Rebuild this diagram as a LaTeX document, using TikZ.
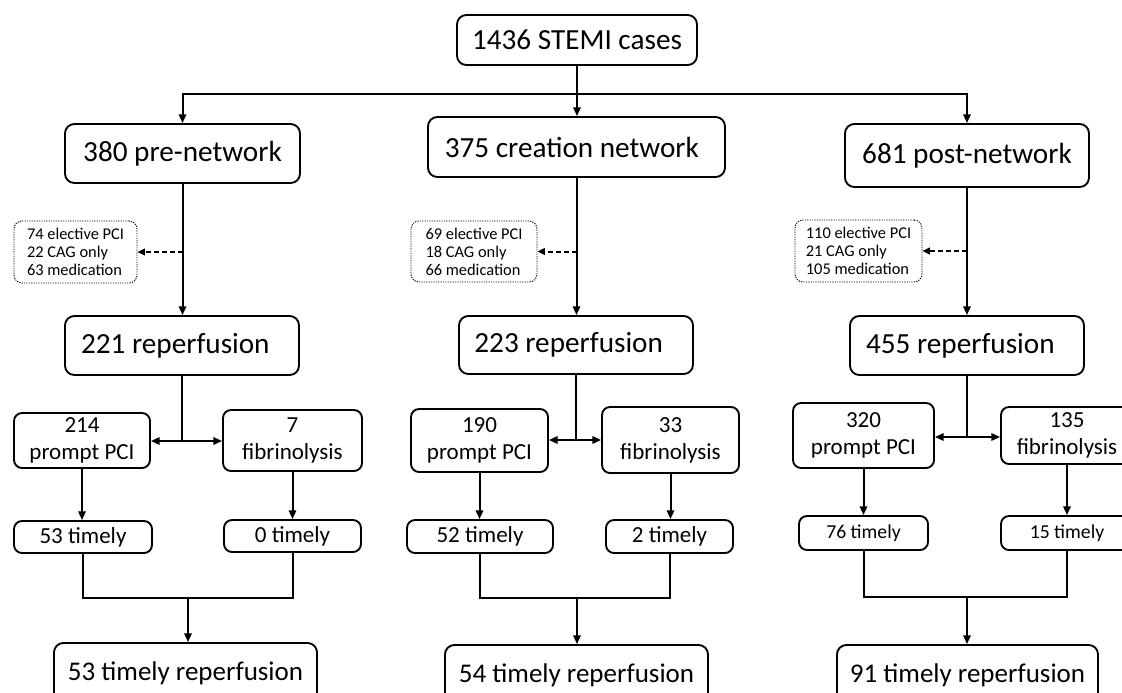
\documentclass[tikz,border=0pt]{standalone}
\usepackage{fontspec}
\setmainfont{Carlito}
\usetikzlibrary{arrows.meta,calc}
\begin{document}
\begin{tikzpicture}[x=0.75pt,y=-0.75pt,
  sz/.style 2 args={minimum width=#1*0.75pt,minimum height=#2*0.75pt},
  box/.style={draw,line width=1.4pt,rounded corners=7pt,inner sep=0pt,align=center},
  big/.style={box,font=\fontsize{21.9}{26}\selectfont},
  mid/.style={box,rounded corners=6pt,font=\fontsize{17.25}{20.25}\selectfont},
  fin/.style={box,font=\fontsize{20.25}{24}\selectfont},
  note/.style={draw,line width=0.7pt,dash pattern=on 0.9pt off 0.9pt,rounded corners=6pt,inner sep=0pt,align=left,font=\fontsize{12.3}{13.6}\selectfont},
  arr/.style={line width=1.5pt,-{Triangle[length=6.5pt,width=5.5pt]}},
  ln/.style={line width=1.5pt},
  darr/.style={line width=1.5pt,dash pattern=on 3.5pt off 2.5pt,-{Triangle[length=5.5pt,width=5pt]}}
]
\useasboundingbox (0,0) rectangle (1122,693);
\clip (0,0) rectangle (1122,693);
\fill[white] (0,0) rectangle (1122,693);

% top levels
\node[big,sz={240}{50}] (top) at (577,40) {1436 STEMI cases};
\node[big,sz={235}{59}] (pre) at (182.5,153.5) {380 pre-network};
\node[big,sz={297}{60}] (cre) at (576.5,147) {375 creation network\hspace{7pt}};
\node[big,sz={244}{63}] (post) at (967,155.5) {681 post-network};

% excluded notes
\node[note,sz={123}{62}] (d1) at (75.5,252) {74 elective PCI\\22 CAG only\\63 medication};
\node[note,sz={126}{61}] (d2) at (474,251.5) {69 elective PCI\\18 CAG only\\66 medication};
\node[note,sz={127}{62}] (d3) at (858.5,251) {110 elective PCI\\21 CAG only\\105 medication};

% reperfusion
\node[big,sz={234}{59}] (r1) at (182,345.5) {221 reperfusion\hspace{10pt}};
\node[big,sz={234}{58}] (r2) at (576,345) {223 reperfusion\hspace{11pt}};
\node[big,sz={234}{59}] (r3) at (967,345.5) {455 reperfusion\hspace{10pt}};

% treatment
\node[mid,sz={136}{55}] (p1) at (82,440.5) {214\\prompt PCI};
\node[mid,sz={139}{61}] (f1) at (292.5,440.5) {7\\fibrinolysis};
\node[mid,sz={137}{63}] (p2) at (479.5,440.5) {190\\prompt PCI};
\node[mid,sz={137}{66}] (f2) at (670.5,440) {33\\fibrinolysis};
\node[mid,sz={141}{65}] (p3) at (863.5,435.5) {320\\prompt PCI};
\node[mid,sz={132}{57}] (f3) at (1067,435.5) {135\\fibrinolysis};

% timely
\node[mid,sz={138}{32}] (t1) at (83,537) {53 timely};
\node[mid,sz={137}{32}] (z1) at (292.5,536) {0 timely};
\node[mid,sz={146}{33}] (t2) at (480,536.5) {52 timely};
\node[mid,sz={127}{33}] (z2) at (669.5,536.5) {2 timely};
\node[mid,sz={129}{34},font=\fontsize{14.8}{18}\selectfont] (t3) at (863.5,533) {76 timely};
\node[mid,sz={132}{34},font=\fontsize{14.8}{18}\selectfont] (z3) at (1067,533) {15 timely};

% final
\node[fin,sz={263}{60}] (b1) at (185.5,673) {53 timely reperfusion};
\node[fin,sz={263}{60}] (b2) at (576.5,675) {54 timely reperfusion};
\node[fin,sz={261}{60}] (b3) at (967.5,675) {91 timely reperfusion};

% top connectors
\coordinate (hb) at (577,94);
\draw[arr] (top.south) -- (top.south |- cre.north);
\draw[arr] (hb) -| (pre.north);
\draw[arr] (hb) -| (post.north);

% column connectors
\draw[arr] (pre.south) -- (pre.south |- r1.north);
\draw[arr] (cre.south) -- (cre.south |- r2.north);
\draw[arr] (post.south) -- (post.south |- r3.north);
\draw[darr] (pre.south |- d1.east) -- (d1.east);
\draw[darr] (cre.south |- d2.east) -- (d2.east);
\draw[darr] (post.south |- d3.east) -- (d3.east);

% split
\coordinate (j1) at (182,441);
\coordinate (j2) at (576,440);
\coordinate (j3) at (967,437);
\draw[ln] (r1.south) -- (j1);
\draw[ln] (r2.south) -- (j2);
\draw[ln] (r3.south) -- (j3);
\draw[arr] (j1) -- (j1 -| p1.east);
\draw[arr] (j1) -- (j1 -| f1.west);
\draw[arr] (j2) -- (j2 -| p2.east);
\draw[arr] (j2) -- (j2 -| f2.west);
\draw[arr] (j3) -- (j3 -| p3.east);
\draw[arr] (j3) -- (j3 -| f3.west);

% to timely
\draw[arr] (p1.south) -- (p1.south |- t1.north);
\draw[arr] (f1.south) -- (f1.south |- z1.north);
\draw[arr] (p2.south) -- (p2.south |- t2.north);
\draw[arr] (f2.south) -- (f2.south |- z2.north);
\draw[arr] (p3.south) -- (p3.south |- t3.north);
\draw[arr] (f3.south) -- (f3.south |- z3.north);

% merge
\coordinate (m1) at (188,598);
\coordinate (m2) at (577,598);
\coordinate (m3) at (967,597);
\draw[ln] (t1.south) |- (z1.south |- m1) -- (z1.south);
\draw[ln] (t2.south) |- (z2.south |- m2) -- (z2.south);
\draw[ln] (t3.south) |- (z3.south |- m3) -- (z3.south);
\draw[arr] (m1) -- (m1 |- b1.north);
\draw[arr] (m2) -- (m2 |- b2.north);
\draw[arr] (m3) -- (m3 |- b3.north);
\end{tikzpicture}
\end{document}
